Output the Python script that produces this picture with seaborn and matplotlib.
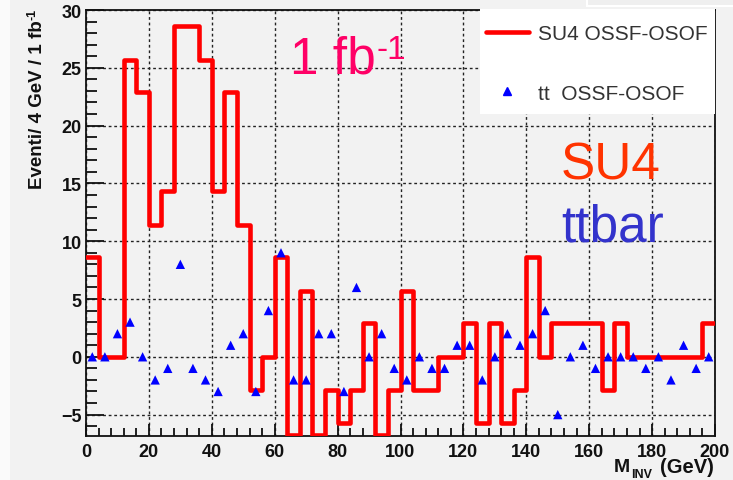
import numpy as np
import pandas as pd
import matplotlib
matplotlib.use('Agg')
import matplotlib.pyplot as plt
from matplotlib.patches import Rectangle
from matplotlib.ticker import MultipleLocator
from matplotlib.lines import Line2D
import seaborn as sns

# Istogramma SU4 (OSSF-OSOF), bin da 4 GeV
bin_edges = np.arange(0, 204, 4)
su4_vals = [8.6, 0, 0, 25.7, 22.9, 11.4, 14.3, 28.6, 28.6, 25.7,
            14.3, 22.9, 11.4, -2.9, 0, 8.6, -8.6, 5.7, -8.6, -2.9,
            -5.7, -2.9, 2.9, -8.6, -2.9, 5.7, -2.9, -2.9, 0, 0,
            2.9, -5.7, 2.9, -5.7, -2.9, 8.6, 0, 2.9, 2.9, 2.9,
            2.9, -2.9, 2.9, 0, 0, 0, 0, 0, 0, 2.9]

# Punti ttbar (OSSF-OSOF) al centro dei bin
tt_vals = [0, 0, 2, 3, 0, -2, -1, 8, -1, -2,
           -3, 1, 2, -3, 4, 9, -2, -2, 2, 2,
           -3, 6, 0, 2, -1, -2, 0, -1, -1, 1,
           1, -2, 0, 2, 1, 2, 4, -5, 0, 1,
           -1, 0, 0, 0, -1, 0, -2, 1, -1, 0]

y_min, y_max = -6.85, 30

bin_centers = (bin_edges[:-1] + bin_edges[1:]) / 2
# contorno a gradini (come ROOT: i bin sotto il minimo vengono disegnati sul bordo)
su4_drawn = np.clip(su4_vals + su4_vals[-1:], y_min + 0.12, None)
step_df = pd.DataFrame({'m_inv': bin_edges, 'su4': su4_drawn})
tt_df = pd.DataFrame({'m_inv': bin_centers, 'tt': tt_vals})

sns.set_style('ticks')
plt.rcParams['font.family'] = ['Liberation Sans', 'DejaVu Sans']

bg = '#f2f2f2'
fig = plt.figure(figsize=(7.33, 4.81), dpi=100, facecolor=bg)
ax = fig.add_axes([86/733, 1 - 437/481, (715 - 86)/733, (437 - 11)/481])
ax.set_facecolor(bg)

# Istogramma a gradini
sns.lineplot(data=step_df, x='m_inv', y='su4', drawstyle='steps-post', estimator=None,
             color='#ff0000', linewidth=3.3, ax=ax, zorder=3)

# Triangoli blu
sns.scatterplot(data=tt_df, x='m_inv', y='tt', marker='^', color='#0000ff', s=45,
                edgecolor='none', ax=ax, zorder=4)

ax.set_xlim(0, 200)
ax.set_ylim(y_min, y_max)
ax.set_xlabel('')
ax.set_ylabel('')

ax.xaxis.set_major_locator(MultipleLocator(20))
ax.xaxis.set_minor_locator(MultipleLocator(4))
ax.yaxis.set_major_locator(MultipleLocator(5))
ax.yaxis.set_minor_locator(MultipleLocator(1))
ax.tick_params(axis='both', which='both', direction='in', colors='#111111',
               width=1.3, labelsize=13)
ax.tick_params(axis='y', which='major', length=13, pad=3)
ax.tick_params(axis='y', which='minor', length=8)
ax.tick_params(axis='x', which='major', length=9, pad=5)
ax.tick_params(axis='x', which='minor', length=5.5)
for lab in ax.get_xticklabels() + ax.get_yticklabels():
    lab.set_fontweight('bold')

ax.grid(True, which='major', linestyle=(0, (2, 2)), color='#222222', linewidth=1)
ax.set_axisbelow(True)
for sp in ax.spines.values():
    sp.set_visible(True)
    sp.set_color('#111111')
    sp.set_linewidth(1.3)

# Titoli assi
fig.text(38/733, 1 - 20/481, 'Eventi/ 4 GeV / 1 fb', rotation=90,
         ha='center', va='top', fontsize=13.5, fontweight='bold', color='#111111')
fig.text(32/733, 1 - 20/481, '-1', rotation=90,
         ha='center', va='bottom', fontsize=9, fontweight='bold', color='#111111')
fig.text(614/733, 1 - 468/481, 'M', ha='left', va='center',
         fontsize=14, fontweight='bold', color='#111111')
fig.text(631/733, 1 - 475/481, 'INV', ha='left', va='center',
         fontsize=9, fontweight='bold', color='#111111')
fig.text(714/733, 1 - 468/481, '(GeV)', ha='right', va='center',
         fontsize=14.5, fontweight='bold', color='#111111')

# Scritte nel grafico
lumi = ax.text(65, 24.6, '1 fb', color='#ff0066', fontsize=37, va='baseline', zorder=5)
ax.annotate('-1', xy=(1, 1), xycoords=lumi, xytext=(0, 0), textcoords='offset points',
            ha='left', va='top', color='#ff0066', fontsize=24, zorder=5)
ax.text(151, 15.45, 'SU4', color='#ff3300', fontsize=37, va='baseline', zorder=5)
ax.text(151, 10.1, 'ttbar', color='#3333cc', fontsize=37, va='baseline', zorder=5)

# Riquadro legenda bianco e bordi della figura
fig.patches.append(Rectangle((480/733, 1 - 115/481), 235/733, 105/481,
                             transform=fig.transFigure, facecolor='white',
                             edgecolor='none', zorder=5))
fig.patches.append(Rectangle((587/733, 1 - 7/481), 150/733, 8/481,
                             transform=fig.transFigure, facecolor='#efefef',
                             edgecolor='white', linewidth=1.5, zorder=5))
fig.patches.append(Rectangle((0, 0), 10/733, 1, transform=fig.transFigure,
                             facecolor='#fafafa', edgecolor='none', zorder=1))

handles = [Line2D([], [], color='#ff0000', linewidth=3.3),
           Line2D([], [], color='#0000ff', marker='^', linestyle='none', markersize=6)]
labels = ['SU4 OSSF-OSOF', 'tt  OSSF-OSOF']
leg = fig.legend(handles, labels, loc='upper left', bbox_to_anchor=(486/733, 1 - 25/481),
                 frameon=False, fontsize=15, handlelength=2.05, handletextpad=0.45,
                 labelspacing=1.95, borderaxespad=0, borderpad=0)
leg.set_zorder(6)
for t in leg.get_texts():
    t.set_color('#333333')

fig.savefig('out.png', dpi=100, facecolor=bg)
